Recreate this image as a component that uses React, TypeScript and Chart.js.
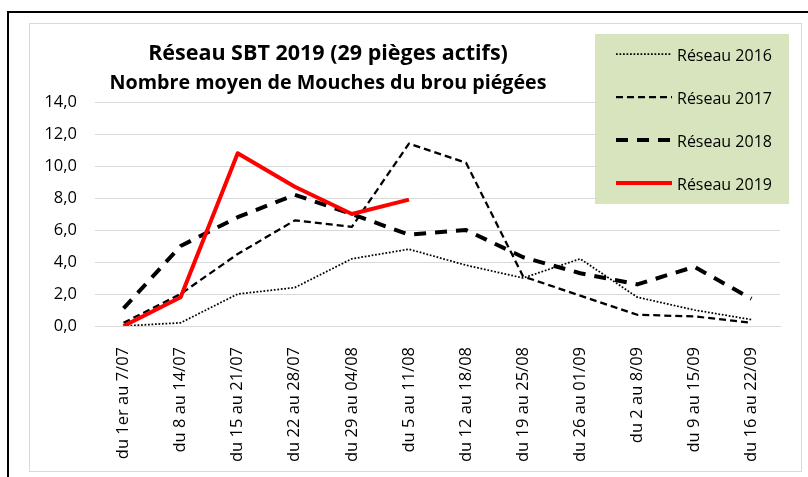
import { useEffect, useRef } from "react";
import { Chart, registerables } from "chart.js";

Chart.register(...registerables);

const categories = [
  "du 1er au 7/07",
  "du 8 au 14/07",
  "du 15 au 21/07",
  "du 22 au 28/07",
  "du 29 au 04/08",
  "du 5 au 11/08",
  "du 12 au 18/08",
  "du 19 au 25/08",
  "du 26 au 01/09",
  "du 2 au 8/09",
  "du 9 au 15/09",
  "du 16 au 22/09",
];

const reseau2016 = [0.0, 0.2, 2.0, 2.4, 4.2, 4.8, 3.8, 3.0, 4.2, 1.8, 1.0, 0.4];
const reseau2017 = [0.2, 2.0, 4.5, 6.6, 6.2, 11.4, 10.2, 3.1, 1.9, 0.7, 0.6, 0.2];
const reseau2018 = [1.1, 5.0, 6.8, 8.2, 7.0, 5.7, 6.0, 4.3, 3.3, 2.6, 3.7, 1.7];
const reseau2019 = [0.0, 1.8, 10.8, 8.7, 7.0, 7.9];

const seriesLabels = ["Réseau 2016", "Réseau 2017", "Réseau 2018", "Réseau 2019"];
const titleLines = [
  "Réseau SBT 2019 (29 pièges actifs)",
  "Nombre moyen de Mouches du brou piégées",
];
const yMin = 0;
const yMax = 14;
const yStep = 2;

const W = 808;
const H = 477;
const FONT = "'Open Sans', sans-serif";

const framePlugin = {
  id: "frame",
  beforeDraw(chart: any) {
    const ctx = chart.ctx as CanvasRenderingContext2D;
    ctx.save();
    ctx.fillStyle = "#ffffff";
    ctx.fillRect(0, 0, W, H);
    ctx.fillStyle = "#000000";
    ctx.fillRect(7, 11, 2, H - 11);
    ctx.fillRect(7, 11, W - 7, 2);
    ctx.strokeStyle = "#d9d9d9";
    ctx.lineWidth = 1;
    ctx.strokeRect(29.5, 23.5, 772, 448);
    ctx.restore();
  },
  afterDraw(chart: any) {
    const ctx = chart.ctx as CanvasRenderingContext2D;
    ctx.save();
    // title
    ctx.fillStyle = "#000000";
    ctx.textAlign = "center";
    ctx.textBaseline = "alphabetic";
    ctx.font = `bold 21.5px ${FONT}`;
    ctx.fillText(titleLines[0], 328, 60);
    ctx.font = `bold 19.7px ${FONT}`;
    ctx.fillText(titleLines[1], 328, 89);

    // legend
    ctx.fillStyle = "#d7e4bd";
    ctx.fillRect(595, 34, 194, 170);
    const datasets = chart.data.datasets;
    datasets.forEach((ds: any, i: number) => {
      const y = 54 + i * 43;
      ctx.beginPath();
      ctx.strokeStyle = ds.borderColor;
      ctx.lineWidth = ds.borderWidth;
      ctx.setLineDash(ds.borderDash || []);
      ctx.lineCap = "butt";
      ctx.moveTo(616, y);
      ctx.lineTo(672, y);
      ctx.stroke();
      ctx.setLineDash([]);
      ctx.fillStyle = "#000000";
      ctx.textAlign = "left";
      ctx.textBaseline = "alphabetic";
      ctx.font = `16px ${FONT}`;
      ctx.fillText(ds.label, 677, y + 6.5);
    });
    ctx.restore();
  },
};

export default function App() {
  const ref = useRef<HTMLCanvasElement>(null);

  useEffect(() => {
    const canvas = ref.current;
    if (!canvas) return;
    const chart = new Chart(canvas, {
      type: "line",
      data: {
        labels: categories,
        datasets: [
          {
            label: seriesLabels[0],
            data: reseau2016,
            borderColor: "#000000",
            borderWidth: 1.75,
            borderDash: [1.75, 1.75],
            order: 3,
          },
          {
            label: seriesLabels[1],
            data: reseau2017,
            borderColor: "#000000",
            borderWidth: 2.25,
            borderDash: [7, 4],
            order: 2,
          },
          {
            label: seriesLabels[2],
            data: reseau2018,
            borderColor: "#000000",
            borderWidth: 4,
            borderDash: [12, 9],
            order: 1,
          },
          {
            label: seriesLabels[3],
            data: reseau2019,
            borderColor: "#ff0000",
            borderWidth: 4,
            order: 0,
          },
        ] as any,
      },
      options: {
        responsive: false,
        animation: false,
        devicePixelRatio: 1,
        layout: { padding: { left: 0, top: 102, right: 28, bottom: 0 } },
        elements: {
          point: { radius: 0, hoverRadius: 0 },
          line: { tension: 0, borderJoinStyle: "round", fill: false },
        },
        plugins: {
          legend: { display: false },
          title: { display: false },
          tooltip: { enabled: false },
        },
        scales: {
          x: {
            offset: true,
            grid: { display: false },
            border: { display: true, color: "#d9d9d9", width: 1 },
            ticks: {
              minRotation: 90,
              maxRotation: 90,
              autoSkip: false,
              padding: 13,
              color: "#000000",
              font: { family: FONT, size: 16.5 },
            },
            afterFit: (s: any) => {
              s.height = 151;
            },
          },
          y: {
            min: yMin,
            max: yMax,
            grid: { color: "#d9d9d9", drawTicks: false, lineWidth: 1 },
            border: { display: false },
            ticks: {
              stepSize: yStep,
              padding: 18,
              color: "#000000",
              font: { family: FONT, size: 16.5 },
              callback: (v: any) => Number(v).toFixed(1).replace(".", ","),
            },
            afterFit: (s: any) => {
              s.width = 95;
            },
          },
        },
      },
      plugins: [framePlugin],
    });
    return () => chart.destroy();
  }, []);

  return (
    <div style={{ position: "absolute", left: 0, top: 0, width: W, height: H }}>
      <canvas
        ref={ref}
        width={W}
        height={H}
        style={{ display: "block", width: W, height: H }}
      />
    </div>
  );
}
